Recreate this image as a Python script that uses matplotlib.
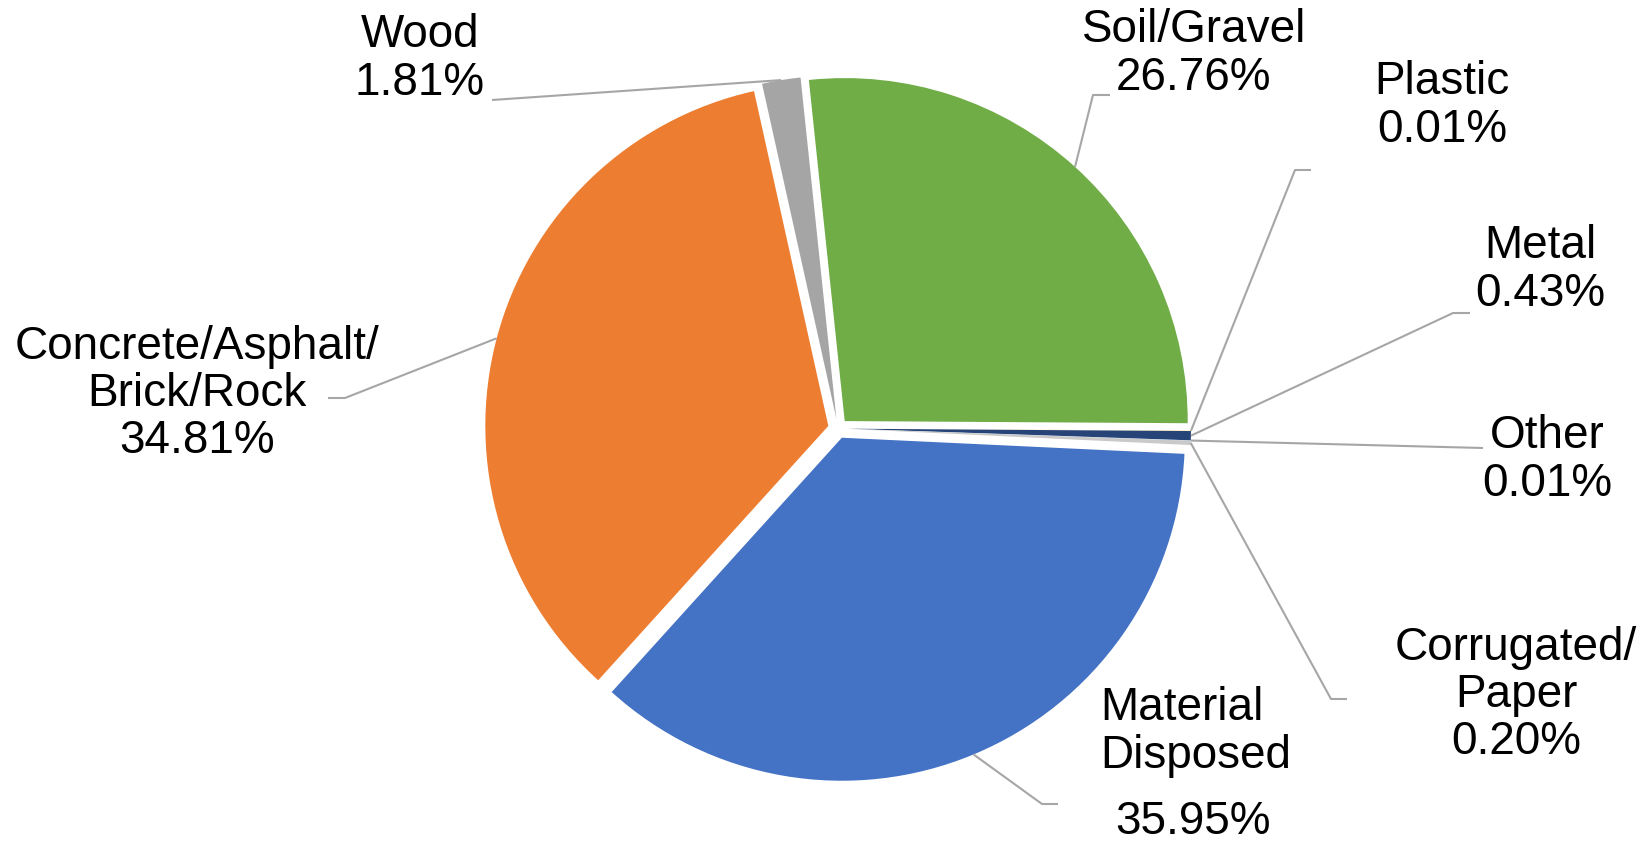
import numpy as np
import matplotlib
matplotlib.use("Agg")
import matplotlib.pyplot as plt

# slices, clockwise from the top
categories = ["Soil/Gravel", "Plastic", "Metal", "Other", "Corrugated/\nPaper",
              "Material\nDisposed", "Concrete/Asphalt/\nBrick/Rock", "Wood"]
shares = [26.76, 0.01, 0.43, 0.01, 0.20, 35.95, 34.81, 1.81]
colors = ["#70AD47", "#FFC000", "#264478", "#5B9BD5", "#C9C9C9",
          "#4472C4", "#ED7D31", "#A5A5A5"]

W, H = 1646, 844
plt.rcParams['font.family'] = ['Liberation Sans', 'DejaVu Sans']

fig = plt.figure(figsize=(W / 100, H / 100), dpi=100)
ax = fig.add_axes([0, 0, 1, 1])
ax.set_xlim(0, W)
ax.set_ylim(0, H)
ax.set_aspect("equal")
ax.axis("off")


def py(y):
    # pixel row (from top) -> data y
    return H - y


cx, cy, r = 838, 428.5, 343
# explode is in data units here (pixels), matplotlib does not scale it by radius
wedges, _ = ax.pie(shares, colors=colors, startangle=96, counterclock=False,
                   explode=[10] * len(shares), center=(cx, py(cy)), radius=r,
                   wedgeprops=dict(linewidth=0))
ax.set_xlim(0, W)
ax.set_ylim(0, H)

# label block centre (px), leader elbow/end points (px)
label_pos = [(1194, 54), (1442, 106), (1540, 270), (1547, 460), (1516, 695),
             None, (197, 394), (420, 59)]
leader_pts = [[(1093, 95), (1110, 95)],
              [(1295, 170), (1311, 170)],
              [(1453, 313), (1470, 313)],
              [(1483, 448)],
              [(1331, 699), (1347, 699)],
              [(1042, 804), (1058, 804)],
              [(345, 398), (328, 398)],
              [(492, 100)]]

fs = 33
line_col = "#A6A6A6"
for i, w in enumerate(wedges):
    th = np.deg2rad((w.theta1 + w.theta2) / 2)
    x0 = w.center[0] + r * np.cos(th)
    y0 = w.center[1] + r * np.sin(th)
    xs = [x0] + [p[0] for p in leader_pts[i]]
    ys = [y0] + [py(p[1]) for p in leader_pts[i]]
    ax.plot(xs, ys, color=line_col, lw=1.5, solid_capstyle="butt")
    pct = "%.2f%%" % shares[i]
    if label_pos[i] is None:
        ax.text(1100, py(732), categories[i], fontsize=fs, ha="left", va="center",
                multialignment="left", linespacing=1.12)
        ax.text(1193, py(822), pct, fontsize=fs, ha="center", va="center")
    else:
        lx, ly = label_pos[i]
        ax.text(lx, py(ly), categories[i] + "\n" + pct, fontsize=fs, ha="center",
                va="center", multialignment="center", linespacing=1.1)

fig.savefig("out.png", dpi=100)
